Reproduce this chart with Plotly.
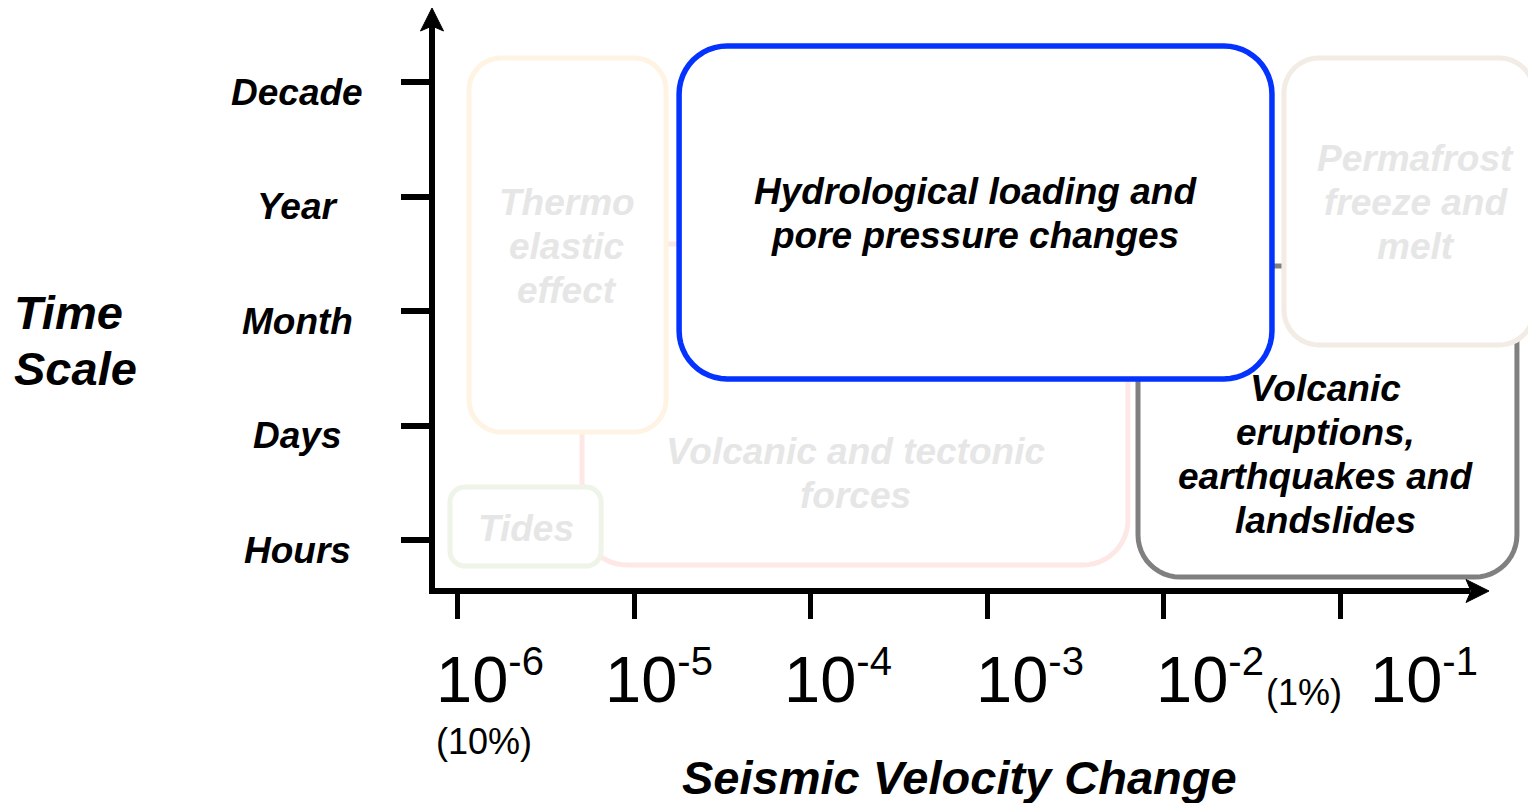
import math
import plotly.graph_objects as go

# ---------------- data ----------------
x_tick_exponents = [-6, -5, -4, -3, -2, -1]          # log10(dv/v)
x_tick_labels = ["10<sup><span style='font-size:40px'>-6</span></sup>",
                 "10<sup><span style='font-size:40px'>-5</span></sup>",
                 "10<sup><span style='font-size:40px'>-4</span></sup>",
                 "10<sup><span style='font-size:40px'>-3</span></sup>",
                 "10<sup><span style='font-size:40px'>-2</span></sup>",
                 "10<sup><span style='font-size:40px'>-1</span></sup>"]
x_tick_notes = {-6: "(10%)", -2: "(1%)"}

time_scale_values = [0, 1, 2, 3, 4]
time_scale_labels = ["Hours", "Days", "Month", "Year", "Decade"]

process_lines = [
    ["Volcanic and tectonic", "forces"],
    ["Thermo", "elastic", "effect"],
    ["Tides"],
    ["Volcanic", "eruptions,", "earthquakes and", "landslides"],
    ["Hydrological loading and", "pore pressure changes"],
    ["Permafrost", "freeze and", "melt"],
]
process_dvv_min = [-5.296, -5.936, -6.044, -2.146, -4.746, -1.319]   # log10(dv/v)
process_dvv_max = [-2.203, -4.820, -5.188, 0.001, -1.387, 0.098]
process_time_min = [-0.215, 0.947, -0.224, -0.320, 1.410, 1.707]    # time-scale index
process_time_max = [2.589, 4.213, 0.466, 2.397, 4.318, 4.213]
label_dvv = [-3.749, -5.381, -5.613, -1.081, -3.069, -0.571]
label_time = [0.580, 2.567, 0.108, 0.746, 2.851, 2.947]

# ---------------- styles / layout ----------------
box_colors = ["#fde8e6", "#fff3e3", "#eef4e8", "#808080", "#0433ff", "#f2ece4"]
text_colors = ["#e6e6e6", "#e6e6e6", "#e6e6e6", "#000000", "#000000", "#e6e6e6"]
box_widths = [5, 5, 5, 5, 5.5, 5]
box_radius_px = [45, 32, 15, 42, 48, 35]
tick_label_xshift = [32, 25, 27, 43, 46, 84]

OFF = 8                      # page body margin of the browser
W, H = 1536 - OFF, 803 - OFF
PL, PR, PT, PB = 432, 1536, 10, 591      # plot box in window pixels
X_RANGE = [-6.146, 0.109]
Y_RANGE = [-0.442, 4.632]
PX_PER_X = (PR - PL) / (X_RANGE[1] - X_RANGE[0])
PX_PER_Y = (PB - PT) / (Y_RANGE[1] - Y_RANGE[0])
FONT = "Liberation Sans, Arial, Helvetica, sans-serif"


def px(X):
    return (X - PL) / (PR - PL)


def py(Y):
    return (PB - Y) / (PB - PT)


def rounded_path(x0, x1, y0, y1, r):
    rx, ry = r / PX_PER_X, r / PX_PER_Y
    centers = [(x1 - rx, y1 - ry, 0), (x0 + rx, y1 - ry, 90),
               (x0 + rx, y0 + ry, 180), (x1 - rx, y0 + ry, 270)]
    pts = []
    for cx, cy, a0 in centers:
        for k in range(13):
            a = math.radians(a0 + 90 * k / 12)
            pts.append((cx + rx * math.cos(a), cy + ry * math.sin(a)))
    return "M " + " L ".join(f"{x:.5f},{y:.5f}" for x, y in pts) + " Z"


fig = go.Figure()
fig.add_trace(go.Scatter(x=[X_RANGE[0]], y=[Y_RANGE[0]], mode="markers",
                         marker=dict(opacity=0), hoverinfo="skip", showlegend=False))

shapes = []
for i in range(len(process_lines)):
    shapes.append(dict(type="path", xref="x", yref="y",
                       path=rounded_path(process_dvv_min[i], process_dvv_max[i],
                                         process_time_min[i], process_time_max[i],
                                         box_radius_px[i]),
                       line=dict(color=box_colors[i], width=box_widths[i]),
                       fillcolor="white", layer="above"))

# axes with arrows
AX_W = 6
shapes.append(dict(type="line", xref="paper", yref="paper", x0=px(432), x1=px(432),
                   y0=py(594), y1=py(26), line=dict(color="black", width=AX_W)))
shapes.append(dict(type="path", xref="paper", yref="paper",
                   path=f"M {px(432)},{py(8)} L {px(420.5)},{py(31)} L {px(432)},{py(26)} L {px(443.5)},{py(31)} Z",
                   fillcolor="black", line=dict(color="black", width=1)))
shapes.append(dict(type="line", xref="paper", yref="paper", x0=px(429), x1=px(1470),
                   y0=py(591), y1=py(591), line=dict(color="black", width=AX_W)))
shapes.append(dict(type="path", xref="paper", yref="paper",
                   path=f"M {px(1489)},{py(591)} L {px(1466)},{py(579.5)} L {px(1471)},{py(591)} L {px(1466)},{py(602.5)} Z",
                   fillcolor="black", line=dict(color="black", width=1)))

annotations = []
LINE_H = 44
for i, lines in enumerate(process_lines):
    n = len(lines)
    for j, t in enumerate(lines):
        annotations.append(dict(x=label_dvv[i], y=label_time[i], xref="x", yref="y",
                                text=t, showarrow=False, xanchor="center", yanchor="middle",
                                yshift=-(j - (n - 1) / 2) * LINE_H,
                                font=dict(family=FONT, size=37, color=text_colors[i],
                                          weight="bold", style="italic")))

for v, t in zip(time_scale_values, time_scale_labels):
    annotations.append(dict(x=px(297), y=v, xref="paper", yref="y", text=t,
                            showarrow=False, xanchor="center", yanchor="middle", yshift=-10,
                            font=dict(family=FONT, size=37, color="black",
                                      weight="bold", style="italic")))

for e, t, s in zip(x_tick_exponents, x_tick_labels, tick_label_xshift):
    annotations.append(dict(x=e, y=py(677), xref="x", yref="paper", text=t,
                            showarrow=False, xanchor="center", yanchor="middle", xshift=s,
                            font=dict(family=FONT, size=65, color="black")))
annotations.append(dict(x=-6, y=py(741), xref="x", yref="paper", text=x_tick_notes[-6],
                        showarrow=False, xanchor="center", yanchor="middle", xshift=26,
                        font=dict(family=FONT, size=36, color="black")))
annotations.append(dict(x=-2, y=py(692), xref="x", yref="paper", text=x_tick_notes[-2],
                        showarrow=False, xanchor="left", yanchor="middle", xshift=100,
                        font=dict(family=FONT, size=36, color="black")))

annotations.append(dict(x=px(12), y=py(312), xref="paper", yref="paper", text="Time",
                        showarrow=False, xanchor="left", yanchor="middle",
                        font=dict(family=FONT, size=47, color="black", weight="bold", style="italic")))
annotations.append(dict(x=px(12), y=py(368), xref="paper", yref="paper", text="Scale",
                        showarrow=False, xanchor="left", yanchor="middle",
                        font=dict(family=FONT, size=47, color="black", weight="bold", style="italic")))
annotations.append(dict(x=px(959), y=py(777), xref="paper", yref="paper",
                        text="Seismic Velocity Change",
                        showarrow=False, xanchor="center", yanchor="middle",
                        font=dict(family=FONT, size=47, color="black", weight="bold", style="italic")))

fig.update_layout(
    width=W, height=H, autosize=False,
    margin=dict(l=PL - OFF, r=1536 - PR, t=PT - OFF, b=803 - PB, pad=0),
    plot_bgcolor="white", paper_bgcolor="white",
    showlegend=False, shapes=shapes, annotations=annotations,
    xaxis=dict(range=X_RANGE, tickvals=x_tick_exponents, showticklabels=False,
               ticks="outside", ticklen=27, tickwidth=5, tickcolor="black",
               showgrid=False, zeroline=False, showline=False, fixedrange=True,
               automargin=False),
    yaxis=dict(range=Y_RANGE, tickvals=time_scale_values, showticklabels=False,
               ticks="outside", ticklen=30, tickwidth=6, tickcolor="black",
               showgrid=False, zeroline=False, showline=False, fixedrange=True,
               automargin=False),
)

fig.write_html("out.html")
